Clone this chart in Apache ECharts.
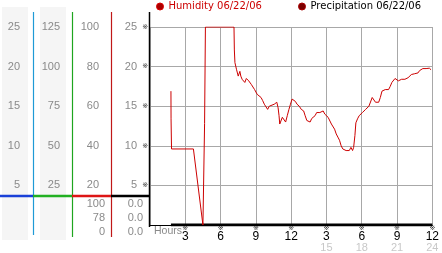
<!DOCTYPE html>
<html><head><meta charset="utf-8">
<script src="https://cdn.jsdelivr.net/npm/echarts@6/dist/echarts.min.js"></script>
<style>html,body{margin:0;padding:0;background:#fff}#c{width:442px;height:253px}</style>
</head><body><div id="c"></div>
<script>
// ---- data ----
const humidityHours = [1.78,1.79,1.83,3.69,4.5,4.64,4.71,7.14,7.17,7.22,7.36,7.5,7.64,7.72,7.83,7.97,8.06,8.19,8.39,8.61,8.89,9.11,9.25,9.44,9.58,9.72,9.86,10.0,10.14,10.28,10.56,10.78,10.83,10.89,10.97,11.03,11.11,11.25,11.39,11.53,11.67,11.81,11.94,12.08,12.22,12.36,12.5,12.64,12.69,12.86,13.06,13.19,13.33,13.47,13.61,13.75,14.03,14.17,14.31,14.44,14.58,14.72,14.86,15.0,15.14,15.28,15.42,15.56,15.69,15.83,15.97,16.11,16.25,16.39,16.53,16.67,16.81,16.94,17.08,17.22,17.31,17.42,17.5,17.64,17.78,17.92,18.06,18.19,18.33,18.47,18.61,18.75,18.89,19.03,19.17,19.31,19.44,19.58,19.72,19.86,20.0,20.14,20.28,20.42,20.56,20.69,20.83,20.97,21.11,21.25,21.39,21.53,21.67,21.81,21.94,22.08,22.22,22.36,22.5,22.64,22.78,22.92,23.06,23.19,23.33,23.47,23.61,23.75,23.89];
const humidityValues = [16.9,13.4,9.6,9.6,0,12.8,25,25,22.1,20.5,19.6,18.8,19.4,18.8,18.4,18.3,18.0,18.5,18.2,17.75,17.1,16.5,16.4,16.1,15.7,15.25,15.0,14.6,15.0,15.1,15.25,15.5,15.7,14.8,13.8,12.75,12.6,13.6,13.8,13.0,13.8,14.6,15.25,15.9,15.9,15.6,15.25,15.5,15.0,14.6,14.4,13.8,13.2,13.4,13.0,13.45,13.8,14.2,14.4,14.2,14.0,14.4,14.0,14.2,13.6,13.4,12.75,12.5,12.1,11.5,11.1,10.7,10.0,9.6,9.8,9.4,9.6,9.4,9.8,9.4,9.8,11.3,12.9,13.4,13.8,13.6,14.2,14.0,14.6,14.4,15.0,14.9,16.1,15.9,15.5,15.7,15.5,16.1,16.9,16.7,17.1,17.3,17.1,17.5,18.0,18.2,18.5,18.4,18.2,18.0,18.4,18.2,18.4,18.25,18.6,18.8,19.0,19.2,19.1,19.3,19.2,19.5,19.6,19.75,19.6,19.75,19.8,19.8,19.6];
const precipHours = [1.78, 24];
const precipValues = [0, 0];
const hourTicks = [3,6,9,12,15,18,21,24];
const hourLabels = ['3','6','9','12','3','6','9','12'];
const clockLabels = ['','','','','15','18','21','24'];
const col1Labels = [0,5,10,15,20,25];      // leftmost column
const col2Max = 125, col3Max = 100;
const tableLeft = ['100','78','0'];
const tableRight = ['0.0','0.0','0.0'];
const humidityName = 'Humidity 06/22/06';
const precipName = 'Precipitation 06/22/06';

// ---- chart ----
const chart = echarts.init(document.getElementById('c'), null, {renderer:'canvas'});
const FONT = 'Liberation Sans, Arial, sans-serif';
const gray = '#8a8a8a';
function numAxis(max, interval, offset, margin) {
  return {
    type:'value', min:0, max:max, interval:interval, position:'left', offset:offset,
    axisLine:{show:false}, axisTick:{show:false}, splitLine:{show:false},
    axisLabel:{margin:margin, color:gray, fontFamily:FONT, fontSize:11,
      formatter:v => v === 0 ? '' : String(v)}
  };
}
const humPts = humidityHours.map((h,i)=>[h, humidityValues[i]]);
const prePts = precipHours.map((h,i)=>[h, precipValues[i]]);

const tableTexts = [];
tableLeft.forEach((t,i)=>tableTexts.push({type:'text', x:105, y:204+i*14,
  style:{text:t, fill:gray, font:'11px '+FONT, textAlign:'right', textVerticalAlign:'middle'}}));
tableRight.forEach((t,i)=>tableTexts.push({type:'text', x:143, y:204+i*14,
  style:{text:t, fill:gray, font:'11px '+FONT, textAlign:'right', textVerticalAlign:'middle'}}));

function ln(x1,y1,x2,y2,color,w){return {type:'line', z:50, shape:{x1,y1,x2,y2}, style:{stroke:color, lineWidth:w}};}

chart.setOption({
  animation:false,
  backgroundColor:'#fff',
  grid:{left:150, right:4, top:27, bottom:26, containLabel:false},
  legend:[
    {data:[{name:humidityName, icon:'circle', itemStyle:{color:'#aa0000', borderColor:'#dd0000', borderWidth:1}}],
     left:156, top:0, padding:0, itemWidth:7, itemHeight:7, selectedMode:false,
     textStyle:{color:'#cc0000', fontFamily:'DejaVu Sans', fontSize:10, lineHeight:13}},
    {data:[{name:precipName, icon:'circle', itemStyle:{color:'#7a0000', borderColor:'#aa0000', borderWidth:1}}],
     left:298, top:0, padding:0, itemWidth:7, itemHeight:7, selectedMode:false,
     textStyle:{color:'#000', fontFamily:'DejaVu Sans', fontSize:10, lineHeight:13}}
  ],
  xAxis:{
    type:'value', min:0, max:24, interval:3,
    axisLine:{show:true, lineStyle:{color:'#000', width:1}},
    axisTick:{show:false},
    splitLine:{show:true, lineStyle:{color:'#a8a8a8', width:1}},
    axisLabel:{margin:0, showMaxLabel:true,
      formatter:function(v){
        const i = hourTicks.indexOf(v);
        if (i < 0) return '';
        let s = '{m|※}\n{b|' + hourLabels[i] + '}';
        if (clockLabels[i]) s += '\n{g|' + clockLabels[i] + '}';
        return s;
      },
      rich:{
        m:{fontSize:7, lineHeight:6, color:'#333', fontFamily:'DejaVu Sans'},
        b:{fontSize:12, lineHeight:11, color:'#000', fontFamily:FONT},
        g:{fontSize:11, lineHeight:11, color:'#c8c8c8', fontFamily:FONT}
      }
    }
  },
  yAxis:[
    {type:'value', min:0, max:25, interval:5, position:'left', offset:0,
     axisLine:{show:false}, axisTick:{show:false},
     splitLine:{show:true, lineStyle:{color:'#a8a8a8', width:1}},
     axisLabel:{margin:2, color:'#333', fontSize:7, fontFamily:'DejaVu Sans',
       formatter:v => v === 0 ? '' : '※'}},
    numAxis(25, 5, 0, 13),
    numAxis(col3Max, col3Max/5, 43, 8),
    numAxis(col2Max, col2Max/5, 82, 8),
    numAxis(col1Labels[col1Labels.length-1], 5, 122, 8)
  ],
  series:[
    {name:precipName, type:'line', data:prePts, showSymbol:false, z:3,
     itemStyle:{color:'#000'}, lineStyle:{color:'#000', width:3}},
    {name:humidityName, type:'line', data:humPts, showSymbol:false, z:4,
     itemStyle:{color:'#cc0000'}, lineStyle:{color:'#cc0000', width:1}}
  ],
  graphic:[
    {type:'rect', z:-10, shape:{x:2, y:7, width:26, height:233}, style:{fill:'#f5f5f5'}},
    {type:'rect', z:-10, shape:{x:40, y:7, width:26, height:233}, style:{fill:'#f5f5f5'}},
    ln(33.5,12,33.5,235,'#1f9ad6',1.2),
    ln(72.5,12,72.5,237,'#1fa51f',1.2),
    ln(111.5,12,111.5,237,'#c01818',1.2),
    ln(149.5,12,149.5,227,'#000',1.5),
    ln(0,196,33,196,'#1a40d8',2.5),
    ln(33,196,72,196,'#22b022',2.5),
    ln(72,196,111,196,'#dd1515',2.5),
    ln(111,196,150,196,'#000',2.5),
    {type:'text', x:154, y:231.5, style:{text:'Hours', fill:gray, font:'10.5px '+FONT, textVerticalAlign:'middle'}},
    ...tableTexts
  ]
});
</script></body></html>
